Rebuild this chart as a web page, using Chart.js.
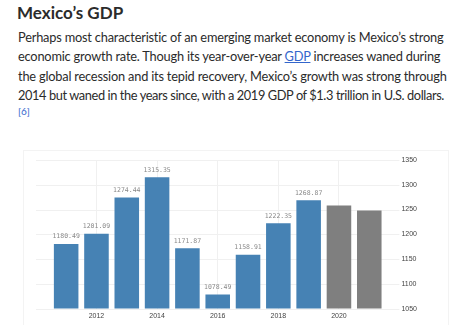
<!DOCTYPE html>
<html>
<head>
<meta charset="utf-8">
<script src="https://cdn.jsdelivr.net/npm/chart.js@4.4.0/dist/chart.umd.min.js"></script>
<style>
  body { margin: 0; background: #fff; width: 456px; height: 325px; overflow: hidden; position: relative; font-family: Lato, sans-serif; color: #2b2b2b; }
  #title { position: absolute; left: 17px; top: 2px; font-size: 17px; font-weight: 700; white-space: nowrap; }
  #para { position: absolute; left: 18px; top: 28px; font-size: 12.8px; letter-spacing: -0.2px; line-height: 19.3px; white-space: nowrap; }
  #para a { color: #3366cc; text-decoration: underline; }
  #para .tight { letter-spacing: -0.4px; }
  #ref { position: absolute; left: 18px; top: 105px; font-size: 10px; color: #3366cc; }
  #box { position: absolute; left: 23px; top: 150px; width: 424px; height: 175px; border-left: 1px solid #f3f3f3; border-right: 1px solid #f3f3f3; border-top: 1px solid #f3f3f3; }
  #wrap { position: relative; width: 424px; height: 175px; }
</style>
</head>
<body>
<div id="title">Mexico’s GDP</div>
<div id="para">Perhaps most characteristic of an emerging market economy is Mexico’s strong<br>economic growth rate. Though its year-over-year <a>GDP</a> increases waned during<br>the global recession and its tepid recovery, Mexico’s growth was strong through<br><span class="tight">2014 but waned in the years since, with a 2019 GDP of $1.3 trillion in U.S. dollars.</span></div>
<div id="ref">[6]</div>
<div id="box"><div id="wrap"><canvas id="gdpChart"></canvas></div></div>
<script>
// GDP in billions of USD
var years = [2011, 2012, 2013, 2014, 2015, 2016, 2017, 2018, 2019, 2020, 2021];
var gdp = [1180.49, 1201.09, 1274.44, 1315.35, 1171.87, 1078.49, 1158.91, 1222.35, 1268.87, 1258, 1248];
var labeled = [true, true, true, true, true, true, true, true, true, false, false];
var yTicks = [1050, 1100, 1150, 1200, 1250, 1300, 1350];

var barColors = labeled.map(function (l) { return l ? '#4682b4' : '#7f7f7f'; });

// horizontal grid a bit wider than the bars
var wideGrid = {
    id: 'wideGrid',
    beforeDatasetsDraw: function (chart) {
        var c = chart.ctx, a = chart.chartArea, y = chart.scales.y;
        c.save();
        c.strokeStyle = '#f0f0f0';
        c.lineWidth = 1;
        yTicks.forEach(function (t) {
            var py = Math.round(y.getPixelForValue(t)) + 0.5;
            c.beginPath();
            c.moveTo(a.left - 15, py);
            c.lineTo(a.right + 15, py);
            c.stroke();
        });
        c.restore();
    }
};

// value labels above bars
var valueLabels = {
    id: 'valueLabels',
    afterDatasetsDraw: function (chart) {
        var c = chart.ctx;
        var meta = chart.getDatasetMeta(0);
        c.save();
        c.font = '6.5px "DejaVu Sans Mono"';
        c.fillStyle = '#8a8a8a';
        c.textAlign = 'center';
        c.textBaseline = 'bottom';
        meta.data.forEach(function (bar, i) {
            if (!labeled[i]) return;
            c.fillText(gdp[i].toFixed(2), bar.x, bar.y - 4);
        });
        c.restore();
    }
};

var ctx = document.getElementById('gdpChart').getContext('2d');
var gdpChart = new Chart(ctx, {
    type: 'bar',
    data: {
        labels: years,
        datasets: [{
            data: gdp,
            backgroundColor: barColors,
            borderWidth: 0,
            barPercentage: 0.9,
            categoryPercentage: 0.9
        }]
    },
    options: {
        responsive: true,
        maintainAspectRatio: false,
        animation: false,
        layout: { padding: { left: 27, top: 9, right: 28, bottom: 3 } },
        plugins: { legend: { display: false }, tooltip: { enabled: false } },
        scales: {
            x: {
                grid: {
                    offset: false,
                    drawTicks: false,
                    color: function (c) { return years[c.index] % 2 === 0 ? '#f0f0f0' : 'rgba(0,0,0,0)'; }
                },
                border: { display: false },
                ticks: {
                    autoSkip: false,
                    maxRotation: 0,
                    padding: 3,
                    color: '#444',
                    font: { family: 'Liberation Sans', size: 7 },
                    callback: function (v, i) { return years[i] % 2 === 0 ? String(years[i]) : ''; }
                }
            },
            y: {
                position: 'right',
                min: 1050,
                max: 1350,
                // invisible tick marks only push the labels away from the bars
                grid: { display: true, drawOnChartArea: false, drawTicks: true, tickLength: 14, color: 'rgba(0,0,0,0)' },
                border: { display: false },
                afterBuildTicks: function (axis) { axis.ticks = yTicks.map(function (v) { return { value: v }; }); },
                ticks: {
                    padding: 3,
                    color: '#444',
                    font: { family: 'Liberation Sans', size: 7 },
                    callback: function (v) { return String(v); }
                }
            }
        }
    },
    plugins: [wideGrid, valueLabels]
});
</script>
</body>
</html>
